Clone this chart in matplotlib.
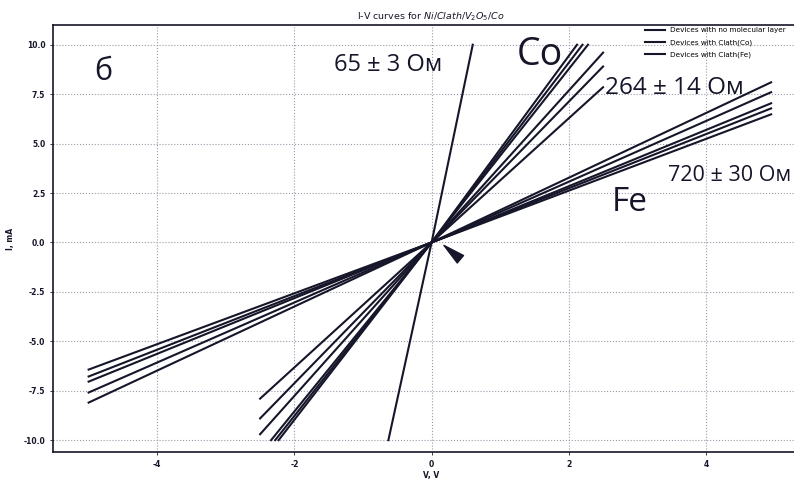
import numpy as np
import matplotlib
matplotlib.use('Agg')
import matplotlib.pyplot as plt

# Devices with no molecular layer (one device), V in volts, I in mA
noml_v = [-0.63, 0.0, 0.60]
noml_i = [-10.0, 0.0, 10.0]

# Devices with Clath(Co): end points of each curve (current limited at 10 mA)
co_v_start = [-2.5, -2.5, -2.5, -2.34, -2.28, -2.23]
co_i_start = [-7.9, -8.9, -9.7, -10.0, -10.0, -10.0]
co_v_end = [2.5, 2.5, 2.5, 2.28, 2.2, 2.12]
co_i_end = [7.85, 8.9, 9.6, 10.0, 10.0, 10.0]

# Devices with Clath(Fe)
fe_v_start = [-5.0, -5.0, -5.0, -5.0, -5.0]
fe_i_start = [-6.43, -6.78, -7.04, -7.59, -8.10]
fe_v_end = [4.95, 4.95, 4.95, 4.95, 4.95]
fe_i_end = [6.48, 6.78, 7.04, 7.60, 8.10]

yticks = [-10.0, -7.5, -5.0, -2.5, 0.0, 2.5, 5.0, 7.5, 10.0]
xticks = [-4, -2, 0, 2, 4]

ink = '#16162a'

fig = plt.figure(figsize=(7.94, 4.82), dpi=100)
ax = fig.add_axes([0.0667, 0.0622, 0.952, 0.886])

ax.plot(noml_v, noml_i, color=ink, lw=1.5, label='Devices with no molecular layer')
for k in range(len(co_v_start)):
    ax.plot([co_v_start[k], 0, co_v_end[k]], [co_i_start[k], 0, co_i_end[k]],
            color=ink, lw=1.5, label='Devices with Clath(Co)' if k == 0 else None)
for k in range(len(fe_v_start)):
    ax.plot([fe_v_start[k], 0, fe_v_end[k]], [fe_i_start[k], 0, fe_i_end[k]],
            color=ink, lw=1.5, label='Devices with Clath(Fe)' if k == 0 else None)

ax.set_xlim(-5.52, 5.5)
ax.set_ylim(-10.6, 11.0)
ax.set_xticks(xticks)
ax.set_yticks(yticks)
ax.set_xticklabels([str(t) for t in xticks], fontsize=5.5, color=ink, fontweight='bold')
ax.set_yticklabels(['%.1f' % t for t in yticks], fontsize=5.5, color=ink, fontweight='bold')
ax.tick_params(length=2, width=0.6, colors=ink)
ax.grid(True, linestyle=':', color='#9a9aaa', lw=0.8)
for s in ax.spines.values():
    s.set_color(ink)
    s.set_linewidth(1.2)

ax.set_xlabel('V, V', fontsize=5.5, color=ink, labelpad=2, fontweight='bold')
ax.set_ylabel('I, mA', fontsize=5.5, color=ink, labelpad=6, fontweight='bold')
ax.set_title('I-V curves for $Ni/Clath/V_2O_5/Co$', fontsize=6.8, color=ink, pad=4)

fig.legend(loc='upper left', bbox_to_anchor=(645 / 794, 1 - 27 / 482), frameon=False,
           fontsize=5.2, handlelength=2.8, handletextpad=0.6, labelspacing=0.85,
           borderaxespad=0, borderpad=0)

big = dict(family='Open Sans', color=ink, va='center', ha='left')
ax.text(-4.92, 8.6, 'б', fontsize=22, **big)
ax.text(-1.42, 9.0, '65 ± 3 Ом', fontsize=17, **big)
ax.text(1.24, 9.5, 'Co', fontsize=27, **big)
ax.text(2.53, 7.8, '264 ± 14 Ом', fontsize=17.5, **big)
ax.text(3.45, 3.4, '720 ± 30 Ом', fontsize=15.5, **big)
ax.text(2.63, 2.0, 'Fe', fontsize=24, **big)

ax.annotate('', xy=(0.18, -0.15), xytext=(0.42, -0.85),
            arrowprops=dict(arrowstyle='wedge,tail_width=0.7', color=ink,
                            shrinkA=0, shrinkB=0))

fig.savefig('out.png', dpi=100)
